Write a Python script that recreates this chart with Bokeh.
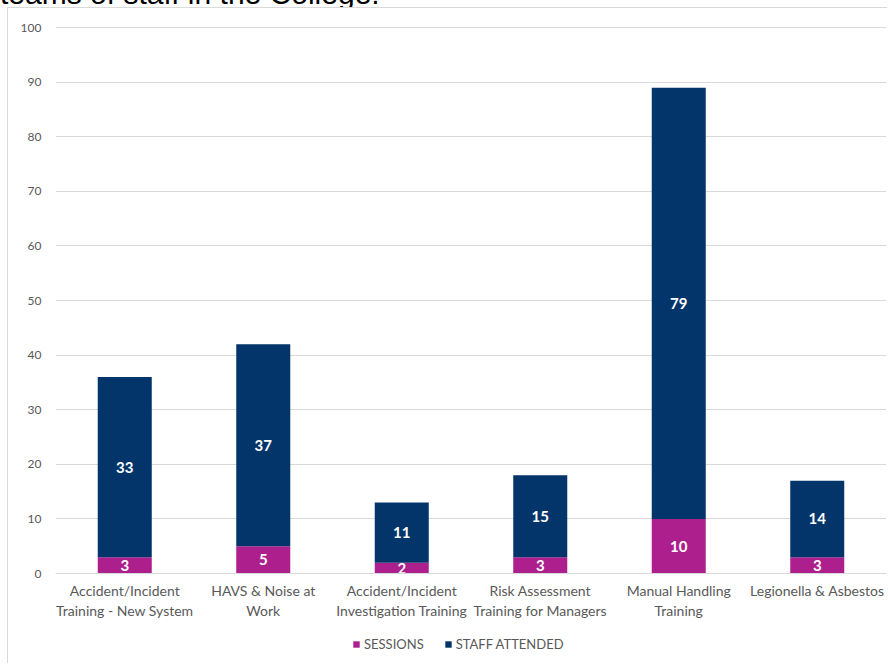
from bokeh.plotting import figure
from bokeh.models import (FactorRange, Range1d, FixedTicker, Legend, LegendItem,
                          ColumnDataSource, Div)
from bokeh.layouts import column
from bokeh.core.properties import value
from bokeh.embed import file_html
from bokeh.resources import INLINE

categories = [
    "Accident/Incident\nTraining - New System",
    "HAVS & Noise at\nWork",
    "Accident/Incident\nInvestigation Training",
    "Risk Assessment\nTraining for Managers",
    "Manual Handling\nTraining",
    "Legionella & Asbestos",
]
sessions = [3, 5, 2, 3, 10, 3]
staff_attended = [33, 37, 11, 15, 79, 14]
y_ticks = [0, 10, 20, 30, 40, 50, 60, 70, 80, 90, 100]
series_names = ["SESSIONS", "STAFF ATTENDED"]
colors = ["#AD1F8D", "#03356A"]
heading = "teams of staff in the College."

FONT = "Lato"
GREY = "#595959"

src = ColumnDataSource(dict(
    cat=categories,
    sessions=sessions,
    staff=staff_attended,
    s_mid=[s / 2 for s in sessions],
    t_mid=[s + t / 2 for s, t in zip(sessions, staff_attended)],
    s_txt=[str(s) for s in sessions],
    t_txt=[str(t) for t in staff_attended],
))

p = figure(frame_width=831, frame_height=638, x_range=FactorRange(*categories),
           y_range=Range1d(-16.65, 100.2), output_backend="svg", toolbar_location=None,
           min_border_left=47, min_border_right=2, min_border_top=18,
           min_border_bottom=0)
p.margin = (0, 0, 0, 8)
p.styles = {"box-shadow": "-1px -1px 0 0 #d9d9d9"}
p.outline_line_color = None
p.background_fill_color = "white"
p.border_fill_color = "white"

rs = p.vbar_stack(["sessions", "staff"], x="cat", width=0.39, source=src,
                  color=colors, line_color=None)

p.text(x="cat", y="s_mid", text="s_txt", source=src, text_color="white",
       text_font=value(FONT), text_font_size="15px", text_font_style="bold",
       text_align="center", text_baseline="middle")
p.text(x="cat", y="t_mid", text="t_txt", source=src, text_color="white",
       text_font=value(FONT), text_font_size="15px", text_font_style="bold",
       text_align="center", text_baseline="middle")

# axes
p.yaxis.ticker = FixedTicker(ticks=y_ticks)
p.yaxis.axis_line_color = None
p.yaxis.major_tick_line_color = None
p.yaxis.minor_tick_line_color = None
p.yaxis.major_tick_out = 0
p.yaxis.major_tick_in = 0
p.yaxis.major_label_text_color = GREY
p.yaxis.major_label_text_font = FONT
p.yaxis.major_label_text_font_size = "12px"
p.yaxis.major_label_standoff = 14

p.xaxis.fixed_location = 0
p.xaxis.axis_line_color = "#d9d9d9"
p.xaxis.major_tick_line_color = None
p.xaxis.minor_tick_line_color = None
p.xaxis.major_tick_out = 0
p.xaxis.major_tick_in = 0
p.xaxis.major_label_text_color = GREY
p.xaxis.major_label_text_font = FONT
p.xaxis.major_label_text_font_size = "14px"
p.xaxis.major_label_standoff = 8

p.xgrid.grid_line_color = None
p.ygrid.grid_line_color = "#d9d9d9"

legend = Legend(items=[LegendItem(label=n, renderers=[r]) for n, r in zip(series_names, rs)],
                orientation="horizontal", location=(297, 12),
                glyph_width=8, glyph_height=8, label_standoff=4, spacing=20,
                label_text_font=FONT, label_text_font_size="13px",
                label_text_color=GREY, border_line_color=None,
                background_fill_alpha=0, margin=0, padding=0)
p.add_layout(legend, "center")

top_text = Div(
    text=f'<div style="position:relative; top:-27px; font-family:\'Liberation Sans\'; '
         f'font-size:30px; color:#000; white-space:nowrap;">{heading}</div>',
    width=888, height=8, styles={"overflow": "hidden"}, margin=0)

layout = column(top_text, p, spacing=0, margin=0)
open("out.html", "w").write(file_html(layout, INLINE))
